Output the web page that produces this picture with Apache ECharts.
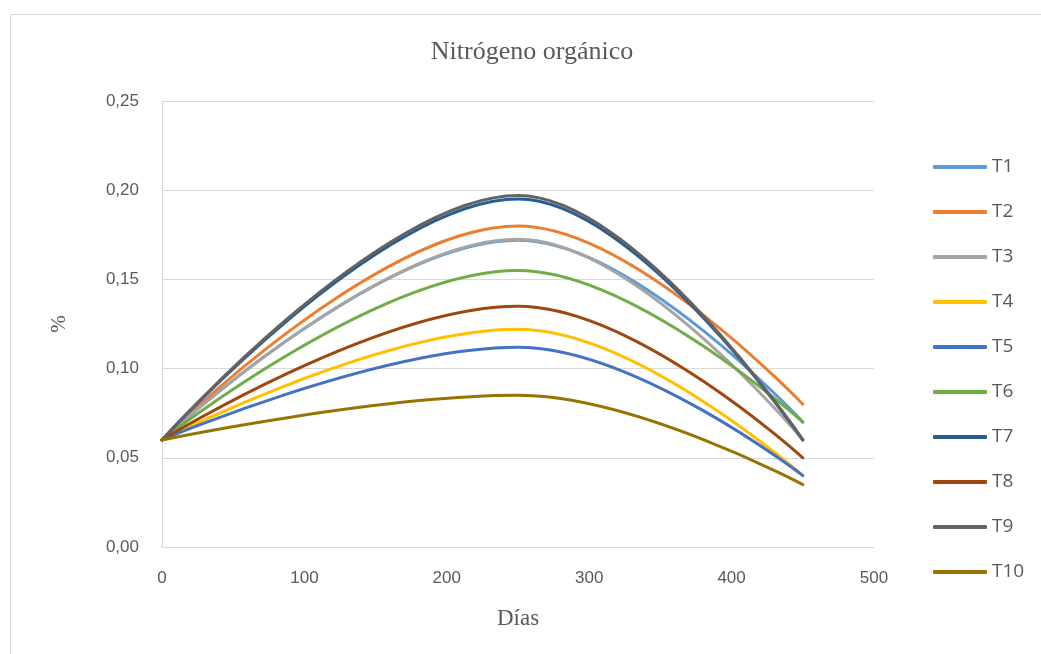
<!DOCTYPE html>
<html>
<head>
<meta charset="utf-8">
<title>Nitrógeno orgánico</title>
<script src="https://cdn.jsdelivr.net/npm/echarts@6/dist/echarts.min.js"></script>
<style>
  html, body { margin: 0; padding: 0; background: #ffffff; }
  #chart { width: 1041px; height: 654px; }
</style>
</head>
<body>
<div id="chart"></div>
<script>
// Sampling days
const days = [0, 250, 450];

// Organic nitrogen (%) per treatment
const seriesNames = ['T1', 'T2', 'T3', 'T4', 'T5', 'T6', 'T7', 'T8', 'T9', 'T10'];
const T1 = [0.06, 0.172, 0.07];
const T2 = [0.06, 0.180, 0.08];
const T3 = [0.06, 0.1725, 0.06];
const T4 = [0.06, 0.122, 0.04];
const T5 = [0.06, 0.112, 0.04];
const T6 = [0.06, 0.155, 0.07];
const T7 = [0.06, 0.195, 0.06];
const T8 = [0.06, 0.135, 0.05];
const T9 = [0.06, 0.197, 0.06];
const T10 = [0.06, 0.085, 0.035];
const seriesValues = [T1, T2, T3, T4, T5, T6, T7, T8, T9, T10];

const colors = ['#5B9BD5', '#ED7D31', '#A5A5A5', '#FFC000', '#4472C4',
                '#70AD47', '#255E91', '#9E480E', '#636363', '#997300'];

const chart = echarts.init(document.getElementById('chart'), null, { renderer: 'canvas' });

const sans = '"Liberation Sans", "Open Sans", sans-serif';
const serif = '"Liberation Serif", "Times New Roman", serif';

chart.setOption({
  animation: false,
  backgroundColor: '#ffffff',
  color: colors,
  graphic: [{
    // chart-area frame
    type: 'rect',
    shape: { x: 10.5, y: 14.5, width: 1100, height: 700 },
    style: { fill: 'none', stroke: '#d9d9d9', lineWidth: 1 },
    silent: true
  }],
  title: {
    text: 'Nitrógeno orgánico',
    left: 532,
    textAlign: 'center',
    top: 39,
    padding: 0,
    textStyle: { fontFamily: serif, fontSize: 26, fontWeight: 'normal', color: '#595959' }
  },
  grid: { left: 162, right: 167, top: 101, bottom: 107, containLabel: false },
  legend: {
    orient: 'vertical',
    left: 928,
    top: 152,
    itemWidth: 54,
    itemHeight: 4,
    itemGap: 25,
    icon: 'roundRect',
    textStyle: { fontFamily: '"Open Sans", "Liberation Sans", sans-serif', fontSize: 19, color: '#595959', lineHeight: 20 },
    data: seriesNames
  },
  xAxis: {
    type: 'value',
    min: 0,
    max: 500,
    interval: 100,
    name: 'Días',
    nameLocation: 'middle',
    nameGap: 60,
    nameTextStyle: { fontFamily: serif, fontSize: 23, color: '#595959' },
    axisLine: { show: true, lineStyle: { color: '#d9d9d9', width: 1 } },
    axisTick: { show: false },
    splitLine: { show: false },
    axisLabel: { fontFamily: sans, fontSize: 17, color: '#595959', margin: 23 }
  },
  yAxis: {
    type: 'value',
    min: 0,
    max: 0.25,
    interval: 0.05,
    name: '%',
    nameLocation: 'middle',
    nameRotate: 90,
    nameGap: 92,
    nameTextStyle: { fontFamily: serif, fontSize: 21, color: '#595959' },
    axisLine: { show: true, lineStyle: { color: '#d9d9d9', width: 1 } },
    axisTick: { show: false },
    splitLine: { show: true, lineStyle: { color: '#d9d9d9', width: 1 } },
    axisLabel: {
      fontFamily: sans, fontSize: 17, color: '#595959', margin: 23,
      formatter: v => v.toFixed(2).replace('.', ',')
    }
  },
  series: seriesNames.map((name, i) => ({
    name: name,
    type: 'line',
    data: days.map((d, j) => [d, seriesValues[i][j]]),
    smooth: 0.4,
    showSymbol: false,
    symbol: 'none',
    lineStyle: { width: 3, color: colors[i], cap: 'round' },
    itemStyle: { color: colors[i] },
    z: 2 + i
  }))
});
</script>
</body>
</html>
